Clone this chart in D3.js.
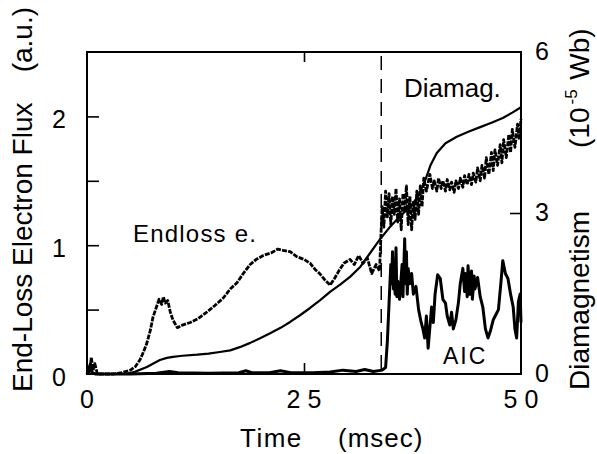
<!DOCTYPE html>
<html><head><meta charset="utf-8">
<script src="https://cdn.jsdelivr.net/npm/d3@7"></script>
<style>
html,body{margin:0;padding:0;background:#fff;}
text{font-family:"Liberation Sans",Arial,Helvetica,sans-serif;fill:#000;}
</style></head>
<body><svg id="c" width="597" height="454"></svg>
<script>
// ---- data ----
const xTicks = [0, 25, 50];
const xTickLabels = ["0", "25", "50"];
const leftTicks = [0, 0.5, 1, 1.5, 2];
const leftTickLabels = ["0", "", "1", "", "2"];
const rightTicks = [0, 3, 6];
const rightTickLabels = ["0", "3", "6"];
const markerTime = 33.9;

// End-loss electron flux (a.u., left axis)
const endlossT = [0,0.3,0.5,0.7,0.9,1.2,3,4,5,5.6,6.1,6.5,6.9,7.3,7.6,8.0,8.3,8.6,8.8,9.0,9.3,9.6,9.9,10.4,11,11.9,12.8,13.8,14.7,15.7,16.5,17.3,18,18.8,19.5,20.3,21.2,22,22.6,23.4,24.2,25,25.7,26.3,26.8,27.4,28,28.5,29.1,29.6,30.3,30.8,31.3,31.8,32.3,32.8,33.3,33.7,34.0,34.2,34.4,34.6,34.8,35.0,35.2,35.4,35.6,35.8,36.0,36.2,36.4,36.6,36.8,37.0,37.2,37.4,37.6,37.8,38.0,38.2,38.4,38.6,38.8,39.1,39.5,39.8,40,40.3,40.5,40.8,41,41.3,41.5,41.8,42,42.3,42.5,42.8,43,43.3,43.5,43.8,44,44.3,44.5,44.8,45,45.3,45.5,45.8,46,46.3,46.6,46.8,47,47.3,47.6,47.8,48,48.3,48.6,48.8,49,49.3,49.6,49.8,50];
const endlossV = [0,0.02,0.13,0.03,0.08,0,0,0.01,0.03,0.06,0.11,0.17,0.24,0.34,0.44,0.52,0.58,0.54,0.60,0.55,0.57,0.48,0.42,0.36,0.38,0.40,0.43,0.48,0.53,0.59,0.66,0.71,0.78,0.85,0.89,0.92,0.94,0.97,0.96,0.95,0.91,0.89,0.86,0.81,0.78,0.73,0.69,0.74,0.81,0.86,0.89,0.85,0.92,0.86,0.90,0.78,0.85,0.80,1.30,1.14,1.42,1.22,1.40,1.16,1.38,1.24,1.44,1.18,1.36,1.12,1.40,1.26,1.46,1.16,1.38,1.12,1.34,1.20,1.42,1.24,1.46,1.30,1.52,1.42,1.55,1.44,1.50,1.42,1.52,1.44,1.50,1.42,1.51,1.43,1.49,1.41,1.50,1.44,1.52,1.45,1.54,1.47,1.55,1.47,1.56,1.49,1.60,1.50,1.62,1.52,1.68,1.55,1.72,1.58,1.74,1.62,1.78,1.64,1.82,1.68,1.86,1.72,1.90,1.76,1.94,1.82,1.98];

// Diamagnetism (10^-5 Wb, right axis)
const diamagT = [0,4.5,5.5,6.9,7.8,8.4,9.2,9.9,11,12.7,14,15.3,16.5,17.6,18.8,20,21.1,22.3,23.4,24.5,25.7,26.9,28,29.2,30.3,31.5,32.6,33.7,34.9,36,37.2,38.1,38.9,39.6,40.3,41.3,42.6,44,45.3,46.6,47.9,49,50];
const diamagV = [0,0,0.04,0.13,0.21,0.26,0.30,0.32,0.34,0.36,0.38,0.41,0.44,0.50,0.58,0.67,0.76,0.86,0.97,1.09,1.23,1.38,1.53,1.67,1.81,2.00,2.25,2.50,2.74,2.93,3.11,3.30,3.58,3.90,4.12,4.30,4.42,4.52,4.60,4.68,4.77,4.87,4.97];

// AIC signal (a.u., left axis)
const aicT = [0,0.4,0.6,1,5,8,9.5,10.5,14,17.5,18.3,19,21,22.3,23.5,26,28,29.5,31,32,33,34,34.4,34.6,34.8,35.0,35.1,35.2,35.3,35.4,35.5,35.6,35.7,35.8,36.0,36.1,36.3,36.4,36.6,36.7,36.8,36.9,37.0,37.2,37.4,37.6,37.9,38.2,38.5,38.7,38.9,39.1,39.3,39.5,39.7,39.9,40.1,40.4,40.7,41.0,41.3,41.5,41.8,42.0,42.2,42.5,42.8,43.0,43.3,43.5,43.6,43.8,43.9,44.1,44.3,44.4,44.6,44.7,45.0,45.3,45.6,45.9,46.2,46.5,46.8,47.1,47.4,47.7,47.9,48.2,48.5,48.8,49.1,49.3,49.5,49.7,49.9,50];
const aicV = [0,0.08,0.01,0,0,0.005,0.02,0.01,0.005,0.01,0.025,0.01,0.01,0.025,0.01,0.01,0.015,0.03,0.02,0.035,0.02,0.03,0.05,0.25,0.55,0.85,0.70,0.95,0.66,0.80,0.62,0.98,0.60,0.72,0.58,0.66,0.85,0.60,1.05,0.70,0.95,0.62,0.82,0.70,0.78,0.62,0.68,0.50,0.40,0.35,0.28,0.45,0.20,0.36,0.52,0.40,0.62,0.77,0.74,0.58,0.55,0.45,0.38,0.48,0.35,0.42,0.56,0.70,0.82,0.64,0.78,0.60,0.84,0.62,0.80,0.58,0.76,0.66,0.75,0.60,0.52,0.35,0.28,0.34,0.42,0.46,0.50,0.72,0.88,0.78,0.74,0.62,0.52,0.35,0.28,0.56,0.62,0.40];

// ---- drawing ----
const svg = d3.select("#c");
const L = 87, R = 521, T = 52, B = 374;
const x = d3.scaleLinear().domain([0, 50]).range([L, R]);
const yL = d3.scaleLinear().domain([0, 2.5]).range([B, T]);
const yR = d3.scaleLinear().domain([0, 6]).range([B, T]);

const lineL = d3.line().x(d => x(d[0])).y(d => yL(d[1]));
const lineR = d3.line().x(d => x(d[0])).y(d => yR(d[1]));

const zip = (a, b) => a.map((v, i) => [v, b[i]]);

// dashed marker line
svg.append("line").attr("x1", x(markerTime)).attr("x2", x(markerTime))
  .attr("y1", T + 4).attr("y2", B).attr("stroke", "#000").attr("stroke-width", 1.5)
  .attr("stroke-dasharray", "14,9");

// series
svg.append("path").attr("d", lineL(zip(endlossT, endlossV))).attr("fill", "none")
  .attr("stroke", "#000").attr("stroke-width", 2.8).attr("stroke-dasharray", "5,1.2")
  .attr("stroke-linejoin", "round");
svg.append("path").attr("d", lineR(zip(diamagT, diamagV))).attr("fill", "none")
  .attr("stroke", "#000").attr("stroke-width", 2.2).attr("stroke-linejoin", "round");
svg.append("path").attr("d", lineL(zip(aicT, aicV))).attr("fill", "none")
  .attr("stroke", "#000").attr("stroke-width", 3).attr("stroke-linejoin", "round");

// frame
svg.append("rect").attr("x", L).attr("y", T).attr("width", R - L).attr("height", B - T)
  .attr("fill", "none").attr("stroke", "#000").attr("stroke-width", 2);

// axes with inward ticks
const gL = svg.append("g").attr("transform", `translate(${L},0)`)
  .call(d3.axisRight(yL).tickValues(leftTicks.filter(v => v > 0)).tickSize(12).tickFormat(""));
const gR = svg.append("g").attr("transform", `translate(${R},0)`)
  .call(d3.axisLeft(yR).tickValues([3]).tickSize(11).tickFormat(""));
const gB = svg.append("g").attr("transform", `translate(0,${B})`)
  .call(d3.axisTop(x).tickValues([25]).tickSize(11).tickFormat(""));
const gT = svg.append("g").attr("transform", `translate(0,${T})`)
  .call(d3.axisBottom(x).tickValues([25]).tickSize(10).tickFormat(""));
[gL, gR, gB, gT].forEach(g => {
  g.select(".domain").remove();
  g.selectAll(".tick line").attr("stroke", "#000").attr("stroke-width", 1.6);
});

// tick labels
leftTicks.forEach((v, i) => {
  if (!leftTickLabels[i]) return;
  svg.append("text").attr("x", 66).attr("y", yL(v) + 12).attr("text-anchor", "end")
    .attr("font-size", 25).text(leftTickLabels[i]);
});
rightTicks.forEach((v, i) => {
  svg.append("text").attr("x", 535).attr("y", yR(v) + 8).attr("font-size", 25)
    .text(rightTickLabels[i]);
});
xTicks.forEach((v, i) => {
  const t = svg.append("text").attr("x", x(v) + (xTickLabels[i].length > 1 ? 3.5 : 0))
    .attr("y", 408).attr("text-anchor", "middle").attr("font-size", 25).text(xTickLabels[i]);
  if (xTickLabels[i].length > 1) t.attr("letter-spacing", 7);
});

// axis titles
svg.append("text").attr("x", 240).attr("y", 447).attr("font-size", 26)
  .attr("letter-spacing", 1.5).text("Time");
svg.append("text").attr("x", 338).attr("y", 447).attr("font-size", 26)
  .attr("letter-spacing", 1).text("(msec)");

svg.append("text").attr("transform", "translate(32,392) rotate(-90)")
  .attr("font-size", 28).text("End-Loss Electron Flux");
svg.append("text").attr("transform", "translate(32,7) rotate(-90)")
  .attr("text-anchor", "end").attr("font-size", 28).text("(a.u.)");

svg.append("text").attr("transform", "translate(589,390) rotate(-90)")
  .attr("font-size", 28).text("Diamagnetism");
const rt = svg.append("text").attr("transform", "translate(589,148) rotate(-90)")
  .attr("font-size", 28);
rt.append("tspan").text("(10");
rt.append("tspan").attr("font-size", 17).attr("dy", -12).attr("dx", 3).text("-5");
rt.append("tspan").attr("dy", 12).attr("dx", 2).text(" Wb)");

// annotations
svg.append("text").attr("x", 133).attr("y", 242).attr("font-size", 24)
  .attr("letter-spacing", 1.2).text("Endloss e.");
svg.append("text").attr("x", 404).attr("y", 97).attr("font-size", 26).text("Diamag.");
svg.append("text").attr("x", 443).attr("y", 364).attr("font-size", 23)
  .attr("letter-spacing", 2).text("AIC");
</script></body></html>
